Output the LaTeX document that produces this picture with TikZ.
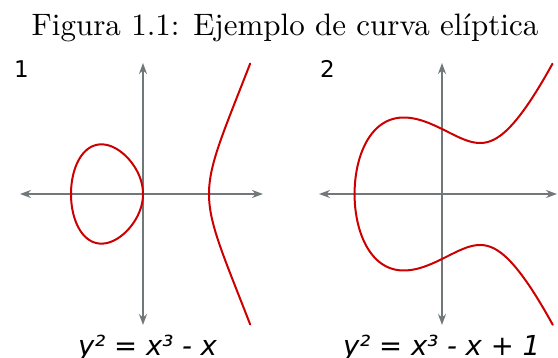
\documentclass[tikz,border=0pt]{standalone}
\usepackage{fontspec}
\usepackage{tikz}
\usetikzlibrary{arrows.meta}

\newfontfamily\labelfont{DejaVu Sans}
\newfontfamily\captionfont{lmroman10-regular}[Extension=.otf]
\definecolor{axisgrey}{RGB}{112,120,122}
\definecolor{curvered}{RGB}{204,0,0}

\begin{document}
\begin{tikzpicture}[
				x=1pt, y=1pt,
				line cap=round,
				line join=round,
				axis/.style={draw=axisgrey, line width=2pt,
					{Stealth[length=11pt,width=8pt]}-{Stealth[length=11pt,width=8pt]}},
				curve/.style={draw=curvered, line width=2pt},
				panel/.style={font=\labelfont\fontsize{23}{27}\selectfont, anchor=base west, inner sep=0pt},
				equation/.style={font=\labelfont\itshape\fontsize{27.5}{32}\selectfont, anchor=base west, inner sep=0pt}
				]
				\useasboundingbox (0,0) rectangle (558,358);
				
				% Caption
				\node[anchor=base, inner sep=0pt, font=\captionfont\fontsize{31}{36}\selectfont] (caption) at (285,322)
					{Figura 1.1: Ejemplo de curva elíptica};
				
				% Left panel: y^2 = x^3 - x
				\node[panel] (num1) at (14,280) {1};
				\draw[axis] (20,164) -- (263,164);
				\draw[axis] (143,33) -- (143,295);
				% oval
				\begin{scope}[shift={(143,164)}, xscale=72, yscale=80]
					\draw[curve] plot[smooth cycle, domain=0:179, samples=180, variable=\t]
						({-cos(\t)*cos(\t)}, {sin(\t)*cos(\t)*sqrt(1+cos(\t)*cos(\t))});
				\end{scope}
				% open branch
				\begin{scope}[shift={(143,164)}, xscale=66, yscale=80]
					\draw[curve] plot[smooth, domain=-0.79:0.79, samples=120, variable=\u]
						({1+(\u)*(\u)}, {\u*sqrt((1+(\u)*(\u))*(2+(\u)*(\u)))});
				\end{scope}
				\node[equation] (eq1) at (78,2) {y² = x³ - x};
				
				% Right panel: y^2 = x^3 - x + 1
				\node[panel] (num2) at (320,280) {2};
				\draw[axis] (319,164) -- (557,164);
				\draw[axis] (442,33) -- (442,295);
				\begin{scope}[shift={(442,164)}, xscale=66, yscale=65,
					declare function={q(\x)=\x*\x-1.3247*\x+0.7549;}]
					\draw[curve] plot[smooth, domain=-1.733:1.733, samples=200, variable=\u]
						({-1.3247+(\u)*(\u)}, {\u*sqrt(q(-1.3247+(\u)*(\u)))});
				\end{scope}
				\node[equation] (eq2) at (343,2) {y² = x³ - x + 1};
			\end{tikzpicture}
\end{document}
